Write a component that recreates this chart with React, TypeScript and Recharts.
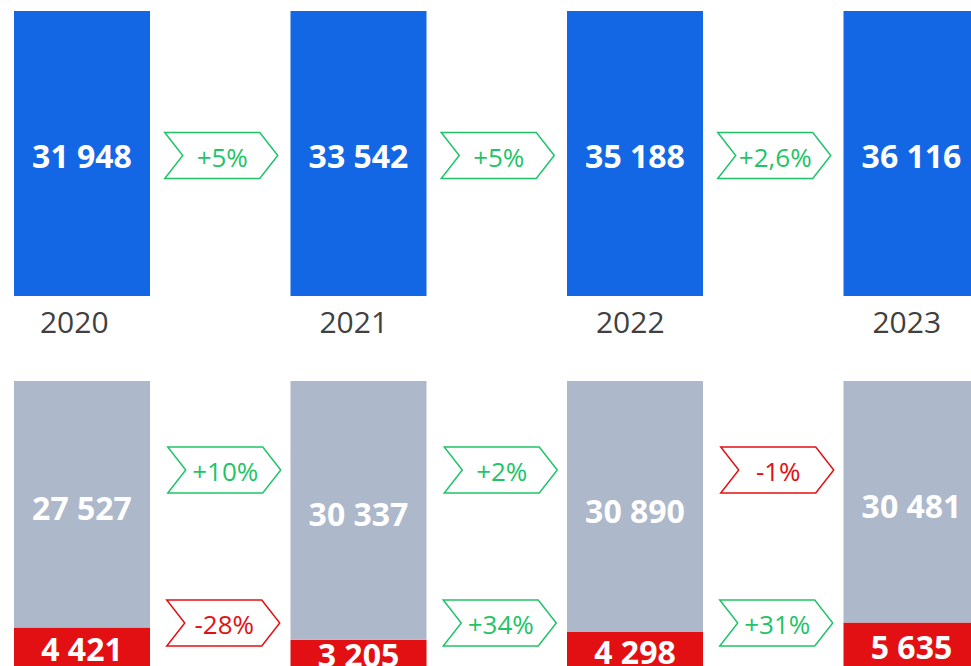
import { BarChart, Bar, XAxis, YAxis, LabelList } from "recharts";

const years = ["2020", "2021", "2022", "2023"];
const totalValues = [31948, 33542, 35188, 36116];
const greyValues = [27527, 30337, 30890, 30481];
const redValues = [4421, 3205, 4298, 5635];
const totalChanges = ["+5%", "+5%", "+2,6%"];
const greyChanges = ["+10%", "+2%", "-1%"];
const redChanges = ["-28%", "+34%", "+31%"];

const topData = years.map((year, i) => ({ year, total: totalValues[i] }));
const bottomData = years.map((year, i) => ({ year, grey: greyValues[i], red: redValues[i] }));

const CHART_LEFT = -56;
const CHART_WIDTH = 1106;
const BAND = CHART_WIDTH / years.length;
const BAR_SIZE = 136;
const PLOT_H = 286;
const AXIS_H = 55;

const BLUE = "#1467e4";
const GREY = "#adb8cb";
const RED = "#e31013";
const GREEN = "#1fc468";
const FONT = "'Open Sans', 'Noto Sans', sans-serif";

// 31948 -> "31 948"
const fmt = (v: number) => String(v).replace(/\B(?=(\d{3})+(?!\d))/g, " ");

function Arrow({ cx, cy, text }: { cx: number; cy: number; text: string }) {
  const w = 113;
  const h = 46;
  const n = 18;
  const x0 = cx - w / 2;
  const x1 = cx + w / 2;
  const y0 = cy - h / 2;
  const y1 = cy + h / 2;
  const color = text.startsWith("-") ? RED : GREEN;
  const points = `${x0},${y0} ${x1 - n},${y0} ${x1},${cy} ${x1 - n},${y1} ${x0},${y1} ${x0 + n},${cy}`;
  return (
    <g>
      <polygon points={points} fill="#fff" stroke={color} strokeWidth={1.5} />
      <text x={cx + 1} y={cy} dy={11} textAnchor="middle" fontSize={26} fill={color} fontFamily={FONT}>
        {text}
      </text>
    </g>
  );
}

const valueText = (x: number, y: number, v: number) => (
  <text x={x} y={y} textAnchor="middle" fill="#fff" fontSize={32} fontWeight={700} fontFamily={FONT}>
    {fmt(v)}
  </text>
);

const gapCenter = (x: number, width: number) => x + width + (BAND - width) / 2 + 1;

const renderTotalLabel = (props: any) => {
  const { x, y, width, height, index } = props;
  const mid = y + height / 2;
  return (
    <g>
      {valueText(x + width / 2, mid + 14, totalValues[index])}
      {index < totalChanges.length && <Arrow cx={gapCenter(x, width)} cy={mid + 2} text={totalChanges[index]} />}
    </g>
  );
};

const renderGreyLabel = (props: any) => {
  const { x, y, width, height, index } = props;
  return (
    <g>
      {valueText(x + width / 2, y + height / 2 + 16, greyValues[index])}
      {index < greyChanges.length && <Arrow cx={gapCenter(x, width) + 3} cy={y + PLOT_H * 0.311} text={greyChanges[index]} />}
    </g>
  );
};

const renderRedLabel = (props: any) => {
  const { x, y, width, height, index } = props;
  return (
    <g>
      {valueText(x + width / 2, y + height / 2 + 14, redValues[index])}
      {index < redChanges.length && (
        <Arrow cx={gapCenter(x, width) + 2} cy={y + height - PLOT_H * 0.154} text={redChanges[index]} />
      )}
    </g>
  );
};

const renderYearTick = (props: any) => {
  const { x, y, payload, index } = props;
  return (
    <text x={x - (index === 0 ? 8 : 5)} y={y + 37} textAnchor="middle" fill="#404040" fontSize={30} fontFamily={FONT}>
      {payload.value}
    </text>
  );
};

export default function App() {
  return (
    <div
      style={{
        position: "fixed",
        top: 0,
        left: 0,
        width: 971,
        height: 666,
        overflow: "hidden",
        background: "#fff",
        fontFamily: FONT,
      }}
    >
      <div style={{ position: "absolute", left: CHART_LEFT, top: 11 }}>
        <BarChart
          width={CHART_WIDTH}
          height={PLOT_H - 1 + AXIS_H}
          data={topData}
          stackOffset="expand"
          margin={{ top: 0, right: 0, bottom: 0, left: 0 }}
        >
          <XAxis
            dataKey="year"
            axisLine={false}
            tickLine={false}
            tickSize={0}
            tickMargin={0}
            height={AXIS_H}
            interval={0}
            tick={renderYearTick}
          />
          <YAxis hide />
          <Bar dataKey="total" stackId="a" fill={BLUE} barSize={BAR_SIZE} isAnimationActive={false}>
            <LabelList dataKey="total" content={renderTotalLabel} />
          </Bar>
        </BarChart>
      </div>
      <div style={{ position: "absolute", left: CHART_LEFT, top: 381 }}>
        <BarChart
          width={CHART_WIDTH}
          height={PLOT_H}
          data={bottomData}
          stackOffset="expand"
          margin={{ top: 0, right: 0, bottom: 0, left: 0 }}
        >
          <XAxis dataKey="year" hide />
          <YAxis hide />
          <Bar dataKey="red" stackId="a" fill={RED} barSize={BAR_SIZE} isAnimationActive={false}>
            <LabelList dataKey="red" content={renderRedLabel} />
          </Bar>
          <Bar dataKey="grey" stackId="a" fill={GREY} barSize={BAR_SIZE} isAnimationActive={false}>
            <LabelList dataKey="grey" content={renderGreyLabel} />
          </Bar>
        </BarChart>
      </div>
    </div>
  );
}
